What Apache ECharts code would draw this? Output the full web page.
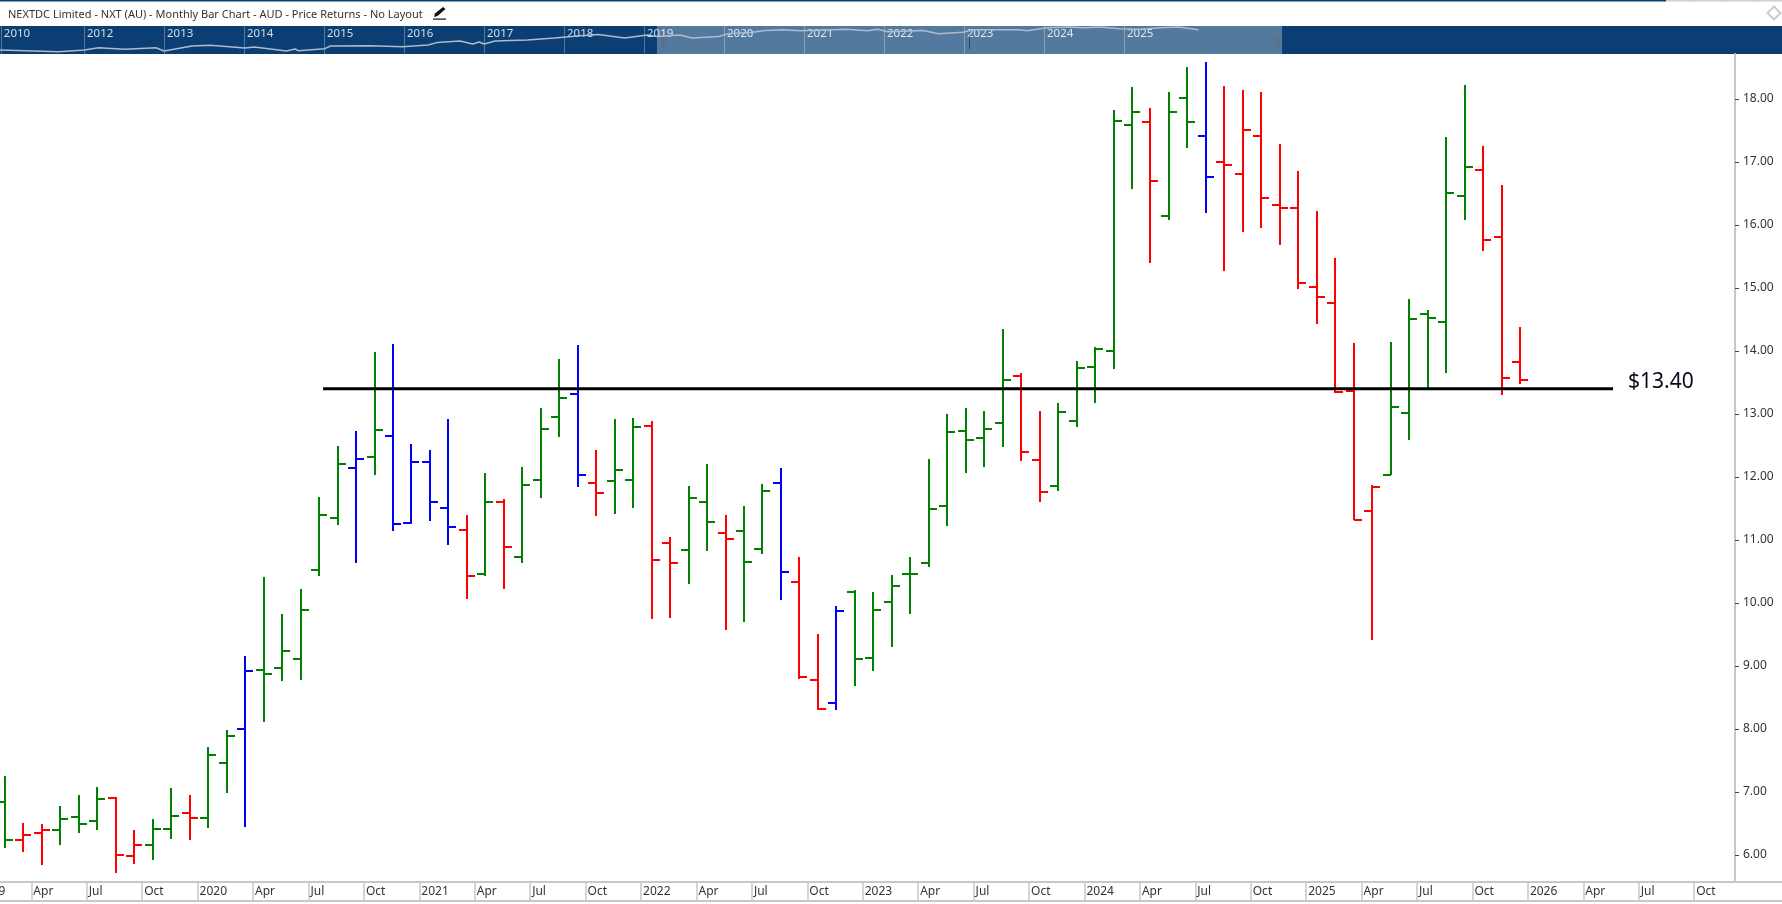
<!DOCTYPE html>
<html>
<head>
<meta charset="utf-8">
<style>html,body{margin:0;padding:0;background:#fff;overflow:hidden}#c{width:1782px;height:904px}</style>
<script src="https://cdn.jsdelivr.net/npm/echarts@6/dist/echarts.min.js"></script>
</head>
<body>
<div id="c"></div>
<script>
const chartTitle = 'NEXTDC Limited - NXT (AU) - Monthly Bar Chart - AUD - Price Returns - No Layout';
const firstBarMonth = 1; // months after Jan 2019
const barPlacement = 0.574; // where a bar sits inside its month
const opens  = [6.847,6.239,6.35,6.397,6.604,6.54,6.91,5.984,6.159,6.413,6.672,6.588,7.461,8.0,8.937,8.969,9.11,10.524,11.349,12.143,12.317,12.651,11.27,12.238,11.508,11.159,10.46,11.603,10.73,11.952,12.952,13.317,11.905,11.936,11.952,12.81,10.952,10.841,11.603,11.111,11.143,10.857,11.905,10.333,8.778,8.413,10.175,9.127,10.016,10.46,10.635,11.54,12.73,12.619,12.857,13.603,12.27,11.857,12.889,13.746,14.0,17.587,17.635,16.143,18.016,17.413,17.0,16.81,17.413,16.318,16.27,15.016,14.762,13.365,11.461,12.032,13.016,14.587,14.46,16.46,16.873,15.81,13.825];
const highs  = [7.254,6.508,6.492,6.778,6.953,7.08,6.926,6.397,6.572,7.064,6.953,7.715,7.985,9.159,10.413,9.826,10.222,11.682,12.492,12.73,13.984,14.111,12.524,12.428,12.92,11.397,12.063,11.651,12.159,13.095,13.873,14.095,12.428,12.92,12.936,12.889,11.047,11.857,12.206,11.397,11.54,11.889,12.143,10.73,9.508,9.952,10.206,10.175,10.444,10.73,12.286,13.0,13.095,13.047,14.349,13.651,13.047,13.174,13.841,14.064,17.825,18.19,17.857,18.111,18.508,18.587,18.206,18.143,18.111,17.286,16.857,16.222,15.476,14.127,11.868,14.143,14.826,14.651,17.397,18.222,17.254,16.635,14.381];
const lows   = [6.11,6.048,5.842,6.159,6.35,6.397,5.715,5.857,5.921,6.254,6.238,6.429,6.985,6.445,8.11,8.762,8.778,10.428,11.238,10.635,12.032,11.143,11.254,11.302,10.921,10.063,10.428,10.222,10.635,11.667,12.635,11.841,11.381,11.413,11.508,9.746,9.762,10.301,10.825,9.571,9.698,10.778,10.047,8.794,8.301,8.301,8.682,8.92,9.301,9.825,10.571,11.222,12.063,12.159,12.476,12.254,11.603,11.778,12.793,13.175,13.714,16.57,15.397,16.08,17.222,16.19,15.27,15.889,15.952,15.683,14.984,14.429,13.333,11.318,9.413,12.032,12.588,13.408,13.651,16.08,15.587,13.302,13.482];
const closes = [6.239,6.318,6.397,6.572,6.492,6.889,6.0,6.159,6.413,6.619,6.588,7.588,7.889,8.921,8.873,9.238,9.889,11.397,12.206,12.286,12.746,11.254,12.238,11.603,11.206,10.428,11.603,10.889,11.873,12.762,13.254,12.032,11.746,12.111,12.794,10.682,10.635,11.666,11.286,11.016,10.65,11.778,10.492,8.825,8.317,9.873,9.111,9.889,10.27,10.46,11.492,12.714,12.587,12.762,13.54,12.397,11.762,13.032,13.73,14.032,17.651,17.794,16.698,17.794,17.635,16.762,16.952,17.508,16.429,16.27,15.08,14.857,13.349,11.318,11.842,13.111,14.508,14.524,16.508,16.921,15.762,13.571,13.54];
const barKinds = 'grrgggrrggrggbgggggbgbbbbrgrgggbrggrrggrggbrrbgggggggggrrgggggrggbrrrrrrrrrgggggrrr';
const kindColours = {g:'#008000', r:'#ff0000', b:'#0000ff'};

const yTicks = [6,7,8,9,10,11,12,13,14,15,16,17,18];
const xTickMonths = [3,6,9,12,15,18,21,24,27,30,33,36,39,42,45,48,51,54,57,60,63,66,69,72,75,78,81,84,87,90,93];
const xTickLabels = ['Apr','Jul','Oct','2020','Apr','Jul','Oct','2021','Apr','Jul','Oct','2022','Apr','Jul','Oct','2023','Apr','Jul','Oct','2024','Apr','Jul','Oct','2025','Apr','Jul','Oct','2026','Apr','Jul','Oct'];

const levelValue = 13.40;
const levelSpan = [18.79, 88.61];
const levelText = '$13.40';

const navTicks  = [2010.96,2012,2013,2014,2015,2016,2017,2018,2019,2020,2021,2022,2023,2024,2025];
const navLabels = ['2010','2012','2013','2014','2015','2016','2017','2018','2019','2020','2021','2022','2023','2024','2025'];
const navWindow = [2019.1625, 2026.975];
const navDates  = [2010.95,2011.68,2012.01,2012.18,2012.51,2012.9,2013.0,2013.35,2013.58,2014.01,2014.13,2014.53,2014.64,2014.68,2015.01,2015.08,2015.58,2015.98,2016.3,2016.41,2016.7,2016.86,2016.94,2017.0,2017.14,2017.54,2017.88,2018.2,2018.43,2018.76,2019.04,2019.16,2019.45,2019.6,2019.93,2020.05,2020.36,2020.51,2020.74,2020.95,2021.54,2021.79,2021.92,2022.05,2022.49,2022.68,2022.99,2023.11,2023.7,2023.79,2024.04,2024.33,2024.49,2024.7,2024.95,2025.2,2025.45,2025.68,2025.93];
const navPrices = [1.2,0.98,1.2,1.57,1.3,1.57,1.07,1.92,2.08,1.52,1.71,1.07,1.35,1.1,1.4,1.92,2.0,1.77,2.16,2.85,3.47,2.43,3.08,2.43,3.47,3.9,4.95,6.3,7.4,4.95,6.9,5.9,6.9,4.95,5.9,8,9.5,11.8,12.8,11.4,13.6,11.4,13.6,10.1,11.8,8,9.5,12.8,12.8,11.4,16.3,18,16.3,18,14.4,13.6,16.3,18,12.8];

const ohlc = opens.map((o,i)=>[firstBarMonth+i+barPlacement, o, highs[i], lows[i], closes[i]]);
const FONT = '"Noto Sans","Open Sans",sans-serif';
const GREY = '#c8c8c8';
const NAVY = '#0b3f74';

function renderBar(params, api){
  const cx = Math.round(api.coord([api.value(0), 0])[0]);
  const yOf = v => Math.round(api.coord([0, v])[1]);
  const colour = kindColours[barKinds[params.dataIndex]];
  const yo = yOf(api.value(1)), yh = yOf(api.value(2)), yl = yOf(api.value(3)), yc = yOf(api.value(4));
  const style = {fill: colour};
  return {type:'group', children:[
    {type:'rect', shape:{x:cx-1, y:yh, width:2, height:yl-yh}, style},
    {type:'rect', shape:{x:cx-8, y:yo-1, width:8, height:2}, style},
    {type:'rect', shape:{x:cx, y:yc-1, width:8, height:2}, style}
  ]};
}

const chart = echarts.init(document.getElementById('c'), null, {renderer:'canvas', width:1782, height:904});
const grip = (x,dx)=>({type:'rect', shape:{x:x+dx, y:38, width:1, height:9}, style:{fill:'#5b6b7c'}, z:50});
chart.setOption({
  animation:false,
  backgroundColor:'#ffffff',
  textStyle:{fontFamily:FONT},
  title:{text:chartTitle, left:8, top:9, padding:0, textStyle:{fontFamily:FONT, fontSize:11, fontWeight:'normal', color:'#333333'}},
  grid:[
    {left:0, top:54, width:1735, height:828, show:false},
    {left:0, top:26, width:1782, height:28, show:true, backgroundColor:NAVY, borderWidth:0}
  ],
  xAxis:[
    {type:'value', gridIndex:0, min:1.3044, max:95.21, position:'bottom',
      axisLine:{show:true, onZero:false, lineStyle:{color:GREY, width:2}},
      axisTick:{show:true, length:19, customValues:xTickMonths, lineStyle:{color:GREY, width:1.5}},
      splitLine:{show:false},
      axisLabel:{show:true, customValues:xTickMonths, align:'left', verticalAlign:'middle', margin:10, padding:[0,0,0,2], fontSize:12, fontFamily:FONT, color:'#333333',
        formatter:v=>xTickLabels[xTickMonths.indexOf(v)]||''}},
    {type:'value', gridIndex:1, min:2010.95, max:2033.225, position:'top',
      axisLine:{show:false},
      axisTick:{show:true, inside:true, length:28, customValues:navTicks, lineStyle:{color:'rgba(255,255,255,0.3)', width:1}},
      splitLine:{show:false},
      axisLabel:{show:true, inside:true, customValues:navTicks, align:'left', verticalAlign:'middle', margin:8, padding:[0,0,0,3], fontSize:11.5, fontFamily:FONT, color:'#d6dfe9',
        formatter:v=>navLabels[navTicks.indexOf(v)]||''}}
  ],
  yAxis:[
    {type:'value', gridIndex:0, min:5.571, max:18.714, position:'right',
      axisLine:{show:true, onZero:false, lineStyle:{color:GREY, width:2}},
      axisTick:{show:true, length:4, customValues:yTicks, lineStyle:{color:'#444444', width:1}},
      splitLine:{show:false},
      axisLabel:{show:true, customValues:yTicks, margin:8, padding:[2,0,0,0], fontSize:12, fontFamily:FONT, color:'#333333', formatter:v=>v.toFixed(2)}},
    {type:'log', gridIndex:1, min:0.75, max:20, show:false, splitLine:{show:false}}
  ],
  series:[
    {type:'custom', name:'NXT', xAxisIndex:0, yAxisIndex:0, renderItem:renderBar, data:ohlc, encode:{x:0,y:[1,2,3,4]}, z:3, silent:true},
    {type:'line', name:'Level', xAxisIndex:0, yAxisIndex:0, data:[[levelSpan[0],levelValue],[levelSpan[1],levelValue]], showSymbol:false, symbol:'none', silent:true, z:5,
      lineStyle:{color:'#000000', width:3},
      endLabel:{show:true, formatter:levelText, fontSize:21, fontFamily:FONT, color:'#0a0a1e', distance:15, offset:[0,-7]}},
    {type:'line', name:'Navigator', xAxisIndex:1, yAxisIndex:1, data:navDates.map((d,i)=>[d,navPrices[i]]), showSymbol:false, symbol:'none', silent:true, z:4,
      lineStyle:{color:'#aebbca', width:1.5},
      markArea:{silent:true, itemStyle:{color:'rgba(255,255,255,0.3)'}, data:[[{xAxis:navWindow[0]},{xAxis:navWindow[1]}]]}}
  ],
  graphic:[
    {type:'rect', shape:{x:0,y:0,width:1666,height:1.5}, style:{fill:NAVY}, z:50},
    {type:'rect', shape:{x:1666,y:0,width:116,height:1.5}, style:{fill:'#cfcfcf'}, z:50},
    {type:'rect', shape:{x:1695,y:0,width:1,height:2}, style:{fill:'#cfcfcf'}, z:50},
    {type:'rect', shape:{x:1724,y:0,width:1,height:2}, style:{fill:'#cfcfcf'}, z:50},
    {type:'rect', shape:{x:1753,y:0,width:1,height:2}, style:{fill:'#cfcfcf'}, z:50},
    {type:'polygon', shape:{points:[[434,17],[435,13.5],[443,7],[445.5,9],[437.5,16]]}, style:{fill:'#111111'}, z:50},
    {type:'rect', shape:{x:433,y:18.5,width:13,height:1.2}, style:{fill:'#111111'}, z:50},
    {type:'polygon', shape:{points:[[1774,6.5],[1780.5,13],[1774,19.5],[1767.5,13]]}, style:{fill:'#ffffff',stroke:'#cccccc',lineWidth:2}, z:50},
    {type:'rect', shape:{x:1735,y:881,width:47,height:2}, style:{fill:GREY}, z:50},
    {type:'rect', shape:{x:0,y:900,width:1782,height:2}, style:{fill:GREY}, z:50},
    {type:'text', x:-22, y:892, style:{text:'2019', font:'12px "Noto Sans"', fill:'#333333', verticalAlign:'middle'}, z:50},
    grip(661,0),grip(661,2),grip(661,4),
    grip(1275,0),grip(1275,2),grip(1275,4),
    {type:'rect', shape:{x:969,y:36,width:1,height:13}, style:{fill:'#2b4660'}, z:50}
  ]
});
</script>
</body>
</html>
